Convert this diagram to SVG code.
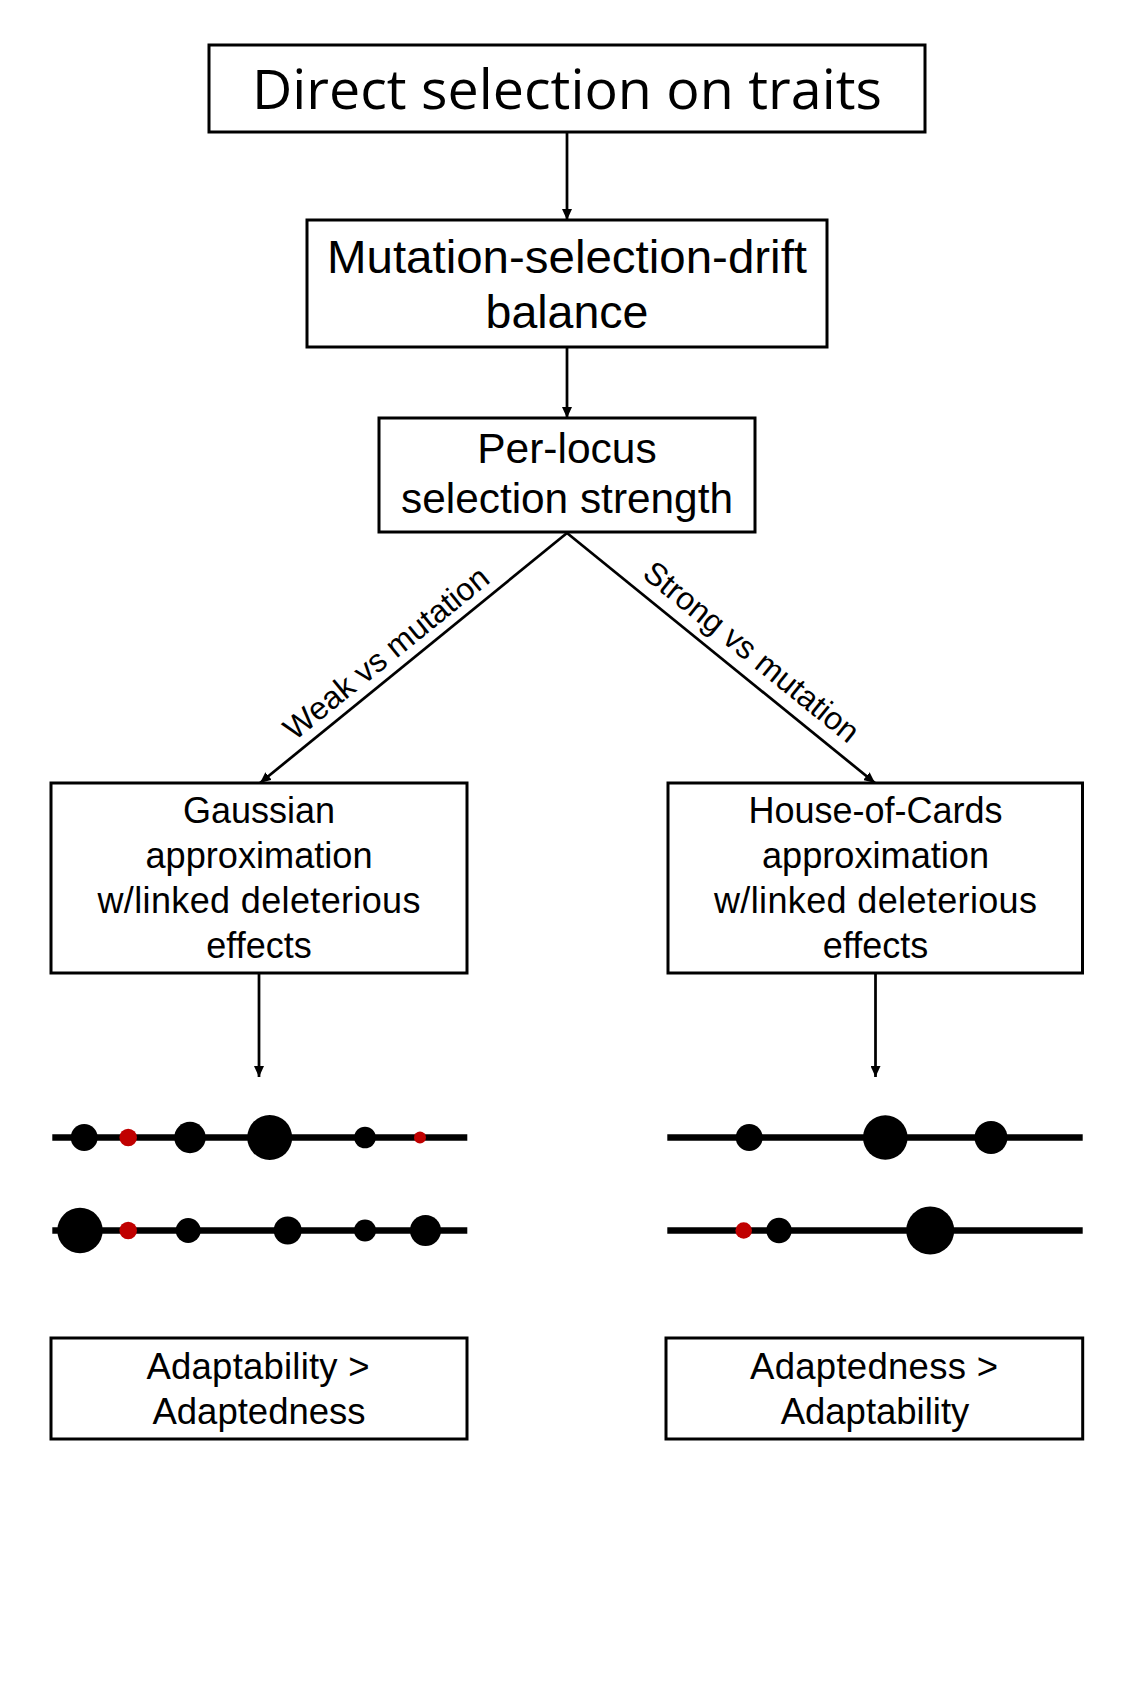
<svg xmlns="http://www.w3.org/2000/svg" width="1134" height="1701" viewBox="0 0 1134 1701">
<style>
.box{fill:#fff;stroke:#000;stroke-width:3}
.t{font-family:"Liberation Sans",Arial,sans-serif;fill:#000;text-anchor:middle}
.conn{stroke:#000;stroke-width:2.75;fill:none}
.chrom{stroke:#000;stroke-width:6.5}
.dot{fill:#000}
.mut{fill:#C00000}
</style>
<defs>
<marker id="ah" viewBox="0 0 11 10" refX="11" refY="5" markerWidth="11" markerHeight="10" markerUnits="userSpaceOnUse" orient="auto"><path d="M0,0 L11,5 L0,10 z" fill="#000"/></marker>
</defs>
<rect x="0" y="0" width="1134" height="1701" fill="#fff"/>
<g id="connectors">
<line class="conn" x1="567" y1="132" x2="567" y2="220" marker-end="url(#ah)"/>
<line class="conn" x1="567" y1="347" x2="567" y2="418" marker-end="url(#ah)"/>
<line class="conn" x1="567" y1="533" x2="260" y2="783" marker-end="url(#ah)"/>
<line class="conn" x1="567" y1="533" x2="875" y2="783" marker-end="url(#ah)"/>
<line class="conn" x1="259" y1="973" x2="259" y2="1077" marker-end="url(#ah)"/>
<line class="conn" x1="875.5" y1="973" x2="875.5" y2="1077" marker-end="url(#ah)"/>
<text class="t" font-size="32" transform="translate(393,661.5) rotate(-39.07)">Weak vs mutation</text>
<text class="t" font-size="32" transform="translate(744.6,660.2) rotate(38.96)">Strong vs mutation</text>
</g>
<g id="n-direct">
<rect class="box" x="209" y="45" width="716" height="87"/>
<text x="567" y="109" font-family="'Open Sans','Noto Sans',sans-serif" font-size="55" text-anchor="middle" textLength="630" lengthAdjust="spacingAndGlyphs">Direct selection on traits</text>
</g>
<g id="n-balance">
<rect class="box" x="307" y="220" width="520" height="127"/>
<text class="t" x="567" y="273" font-size="46.5" textLength="480" lengthAdjust="spacingAndGlyphs">Mutation-selection-drift</text>
<text class="t" x="567" y="328" font-size="46.5">balance</text>
</g>
<g id="n-perlocus">
<rect class="box" x="379" y="418" width="376" height="114"/>
<text class="t" x="567" y="463" font-size="42.5">Per-locus</text>
<text class="t" x="567" y="513" font-size="42.5" textLength="332" lengthAdjust="spacingAndGlyphs">selection strength</text>
</g>
<g id="n-gaussian">
<rect class="box" x="51" y="783" width="416" height="190"/>
<text class="t" x="259" y="823.3" font-size="36">Gaussian</text>
<text class="t" x="259" y="868.3" font-size="36" textLength="227" lengthAdjust="spacingAndGlyphs">approximation</text>
<text class="t" x="259" y="913.3" font-size="36" textLength="323" lengthAdjust="spacing">w/linked deleterious</text>
<text class="t" x="259" y="957.7" font-size="36">effects</text>
</g>
<g id="n-hoc">
<rect class="box" x="668" y="783" width="414.5" height="190"/>
<text class="t" x="875.5" y="823.3" font-size="36">House-of-Cards</text>
<text class="t" x="875.5" y="868.3" font-size="36" textLength="227" lengthAdjust="spacingAndGlyphs">approximation</text>
<text class="t" x="875.5" y="913.3" font-size="36" textLength="323" lengthAdjust="spacing">w/linked deleterious</text>
<text class="t" x="875.5" y="957.7" font-size="36">effects</text>
</g>
<g id="n-chrom-left">
<line class="chrom" x1="52.3" y1="1137.5" x2="467.3" y2="1137.5"/>
<circle class="dot" cx="84.2" cy="1137.5" r="13.5"/>
<circle class="mut" cx="128.2" cy="1137.5" r="8.8"/>
<circle class="dot" cx="190" cy="1137.5" r="15.7"/>
<circle class="dot" cx="269.7" cy="1137.5" r="22.5"/>
<circle class="dot" cx="365" cy="1137.5" r="10.8"/>
<circle class="mut" cx="420" cy="1137.5" r="6"/>
<line class="chrom" x1="52.3" y1="1230.5" x2="467.3" y2="1230.5"/>
<circle class="dot" cx="80" cy="1230.5" r="22.7"/>
<circle class="mut" cx="128.2" cy="1230.5" r="8.8"/>
<circle class="dot" cx="188.2" cy="1230.5" r="12.5"/>
<circle class="dot" cx="287.7" cy="1230.5" r="14"/>
<circle class="dot" cx="365" cy="1230.5" r="11"/>
<circle class="dot" cx="425.5" cy="1230.5" r="15.5"/>
</g>
<g id="n-chrom-right">
<line class="chrom" x1="667.3" y1="1137.5" x2="1082.7" y2="1137.5"/>
<circle class="dot" cx="749.2" cy="1137.5" r="13.5"/>
<circle class="dot" cx="885.3" cy="1137.5" r="22.3"/>
<circle class="dot" cx="991" cy="1137.5" r="16.5"/>
<line class="chrom" x1="667.3" y1="1230.5" x2="1082.7" y2="1230.5"/>
<circle class="mut" cx="743.7" cy="1230.5" r="8.3"/>
<circle class="dot" cx="779" cy="1230.5" r="12.7"/>
<circle class="dot" cx="930.2" cy="1230.5" r="24"/>
</g>
<g id="n-adaptability">
<rect class="box" x="51" y="1338" width="416" height="101"/>
<text class="t" x="258" y="1379" font-size="36.5" textLength="223" lengthAdjust="spacing">Adaptability &gt;</text>
<text class="t" x="259" y="1424" font-size="36.5">Adaptedness</text>
</g>
<g id="n-adaptedness">
<rect class="box" x="666" y="1338" width="416.7" height="101"/>
<text class="t" x="874" y="1379" font-size="36.5" textLength="248" lengthAdjust="spacing">Adaptedness &gt;</text>
<text class="t" x="875" y="1424" font-size="36.5">Adaptability</text>
</g>
</svg>
